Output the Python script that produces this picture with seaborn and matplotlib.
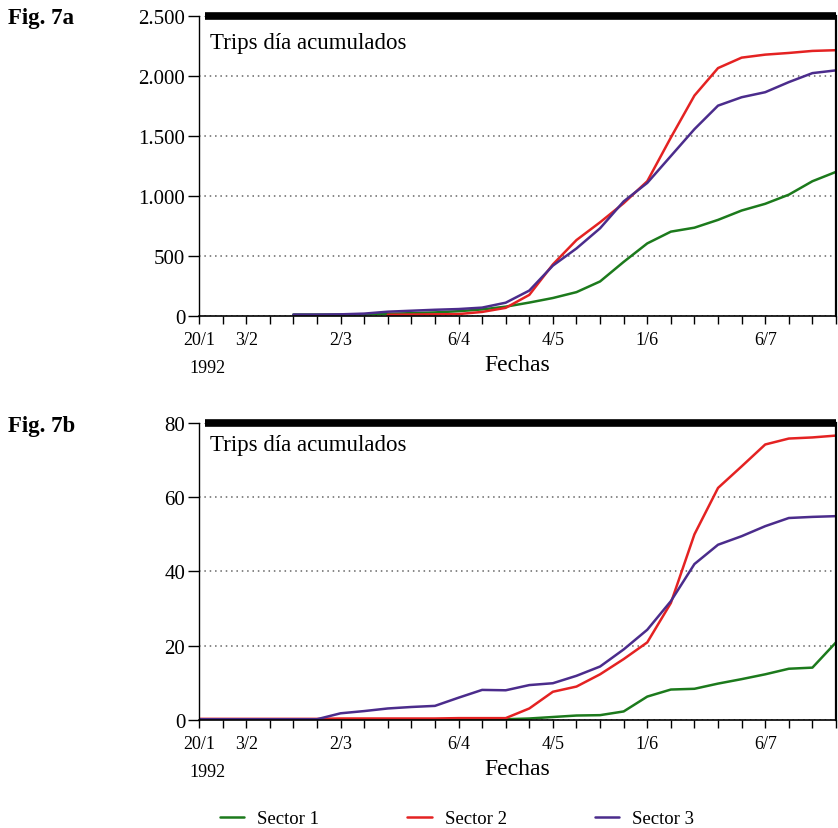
import numpy as np
import pandas as pd
import matplotlib.pyplot as plt
import seaborn as sns

# Semanas desde el 20/1/1992 (una observación por semana)
weeks = list(range(28))
tick_pos = [0, 2, 6, 11, 15, 19, 24]
tick_txt = ['20/1', '3/2', '2/3', '6/4', '4/5', '1/6', '6/7']
sectors = ['Sector 1', 'Sector 2', 'Sector 3']
colors = ['#1c7a1c', '#e42222', '#4b2c8c']
nan = np.nan

# Fig. 7a - trips día acumulados
s1_a = [nan, nan, nan, nan, 12, 12, 12, 14, 18, 24, 30, 40, 55, 78, 112, 150,
        199, 288, 451, 605, 703, 736, 801, 879, 935, 1011, 1123, 1201]
s2_a = [nan, nan, nan, nan, nan, nan, nan, nan, 10, 12, 14, 16, 34, 68, 176, 430,
        633, 781, 940, 1123, 1487, 1837, 2066, 2153, 2178, 2192, 2209, 2215]
s3_a = [nan, nan, nan, nan, 12, 12, 14, 20, 36, 44, 52, 58, 70, 111, 212, 420,
        563, 731, 955, 1109, 1333, 1557, 1753, 1823, 1865, 1949, 2024, 2047]
yt_a = [0, 500, 1000, 1500, 2000, 2500]
yl_a = ['0', '500', '1.000', '1.500', '2.000', '2.500']

# Fig. 7b
s1_b = [0.1, 0.1, 0.1, 0.1, 0.1, 0.1, 0.1, 0.1, 0.1, 0.1, 0.1, 0.1, 0.1, 0.2, 0.4, 0.8,
        1.2, 1.3, 2.3, 6.3, 8.2, 8.4, 9.8, 11.0, 12.3, 13.8, 14.1, 20.9]
s2_b = [0.3, 0.3, 0.3, 0.3, 0.3, 0.3, 0.4, 0.4, 0.4, 0.4, 0.4, 0.5, 0.5, 0.5, 3.1, 7.6,
        9.0, 12.3, 16.4, 20.9, 31.5, 50.0, 62.5, 68.3, 74.2, 75.8, 76.1, 76.6]
s3_b = [0.2, 0.2, 0.2, 0.2, 0.2, 0.2, 1.8, 2.4, 3.1, 3.5, 3.8, 6.0, 8.1, 8.0, 9.4, 9.9,
        11.9, 14.4, 19.0, 24.3, 32.0, 42.0, 47.2, 49.5, 52.2, 54.4, 54.7, 54.9]
yt_b = [0, 20, 40, 60, 80]
yl_b = ['0', '20', '40', '60', '80']

sns.set_style('ticks')
plt.rcParams['font.family'] = ['Liberation Serif', 'DejaVu Serif']
plt.rcParams.update({'text.color': 'black', 'axes.labelcolor': 'black',
                     'xtick.color': 'black', 'ytick.color': 'black',
                     'axes.edgecolor': 'black'})

fig = plt.figure(figsize=(8.38, 8.29), dpi=100)
ax_a = fig.add_axes([0.2375, 0.6176, 0.7601, 0.3619])
ax_b = fig.add_axes([0.2375, 0.1303, 0.7601, 0.3583])

palette = dict(zip(sectors, colors))

panels = [
    (ax_a, [s1_a, s2_a, s3_a], yt_a, yl_a, 'Fig. 7a', 0.978, 0.91),
    (ax_b, [s1_b, s2_b, s3_b], yt_b, yl_b, 'Fig. 7b', 0.486, 0.929),
]

for ax, series, yt, yl, fig_lbl, fig_y, txt_y in panels:
    df = pd.DataFrame({
        'semana': weeks * 3,
        'trips': series[0] + series[1] + series[2],
        'sector': [s for s in sectors for _ in weeks],
    })
    sns.lineplot(data=df, x='semana', y='trips', hue='sector', palette=palette,
                 lw=1.8, ax=ax, legend=False, estimator=None)

    ax.set_xlim(0, 27)
    ax.set_ylim(yt[0], yt[-1])
    ax.set_yticks(yt)
    ax.set_yticklabels(yl, fontsize=15)
    ax.set_xticks(weeks)
    ax.set_xticklabels([tick_txt[tick_pos.index(w)] if w in tick_pos else '' for w in weeks],
                       fontsize=13)
    ax.tick_params(axis='y', direction='out', length=8, width=1, pad=2)
    ax.tick_params(axis='x', direction='out', length=6, width=1, pad=5)
    ax.grid(axis='y', linestyle=(0, (1, 2.5)), color='0.4', lw=1.1)
    ax.set_xlabel('Fechas', fontsize=17, labelpad=4)
    ax.set_ylabel('')

    # marco: barra superior gruesa, lateral derecho
    ax.spines['left'].set_linewidth(1)
    ax.spines['bottom'].set_linewidth(1.2)
    ax.spines['right'].set_linewidth(1.6)
    ax.spines['top'].set_linewidth(5.5)
    ax.spines['top'].set_bounds(0.25, 27)
    ax.spines['top'].set_capstyle('butt')
    for sp in ax.spines.values():
        sp.set_color('black')
        sp.set_zorder(3)

    ax.text(0.017, txt_y, 'Trips día acumulados', transform=ax.transAxes,
            fontsize=16.5, va='center', ha='left')
    ax.text(0.013, -0.172, '1992', transform=ax.transAxes,
            fontsize=13, va='center', ha='center')
    fig.text(0.01, fig_y, fig_lbl, fontsize=16.5, fontweight='bold', va='center', ha='left')

handles = ax_b.get_lines()[:3]
fig.legend(handles, sectors, loc='center left', bbox_to_anchor=(0.262, 0.011),
           ncol=3, frameon=False, fontsize=13.5, handlelength=1.3, handletextpad=0.7,
           columnspacing=4.7, borderpad=0, borderaxespad=0)

fig.savefig('out.png', dpi=100)
